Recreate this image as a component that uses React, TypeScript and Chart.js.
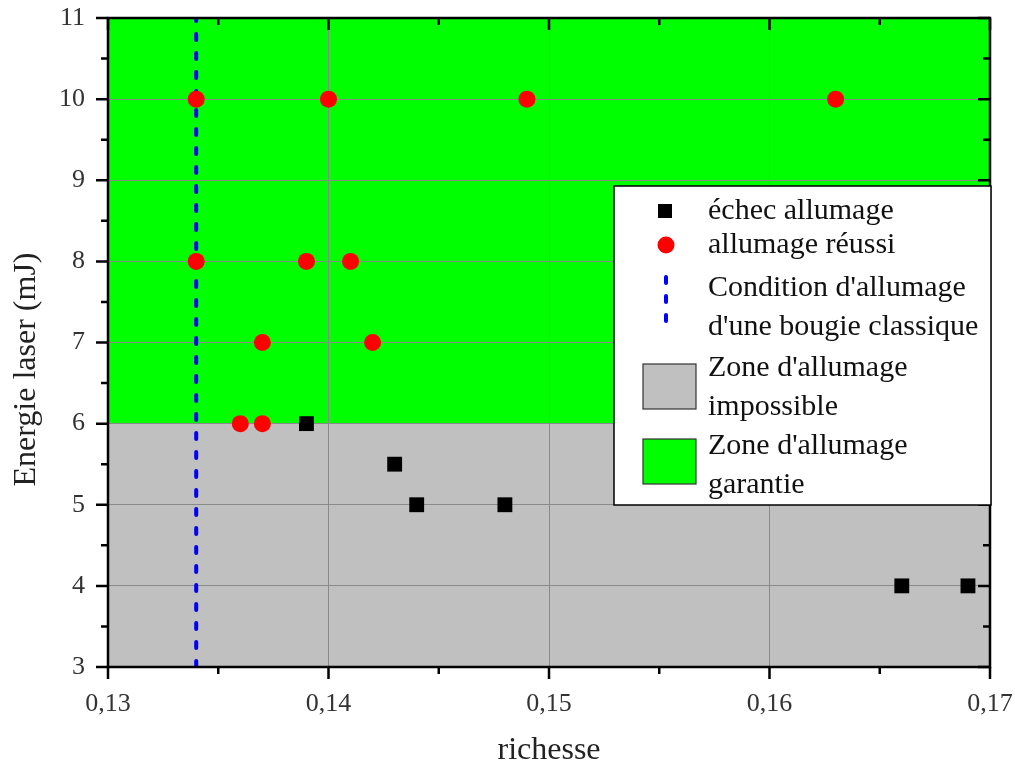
import React, { useEffect, useRef } from "react";
import { Chart, registerables } from "chart.js";

Chart.register(...registerables);

// ---- Data ----
const richesseEchec = [0.139, 0.143, 0.144, 0.148, 0.166, 0.169];
const energieEchec = [6, 5.5, 5, 5, 4, 4];

const richesseReussi = [0.134, 0.14, 0.149, 0.163, 0.134, 0.139, 0.141, 0.137, 0.142, 0.136, 0.137];
const energieReussi = [10, 10, 10, 10, 8, 8, 8, 7, 7, 6, 6];

const conditionRichesse = 0.134; // vertical dashed line
const zoneLimite = 6; // energy separating the two zones

const xMin = 0.13;
const xMax = 0.17;
const yMin = 3;
const yMax = 11;

const xTitle = "richesse";
const yTitle = "Energie laser (mJ)";

const legendLabels = [
  ["échec allumage"],
  ["allumage réussi"],
  ["Condition d'allumage", "d'une bougie classique"],
  ["Zone d'allumage", "impossible"],
  ["Zone d'allumage", "garantie"],
];

const SERIF = "'Liberation Serif', 'Times New Roman', serif";
const GRID = "#8a8a8a";

const fmt = (v: number) => v.toFixed(2).replace(".", ",");

const framePlugin = {
  id: "frameTicks",
  afterDatasetsDraw(chart: any) {
    const { ctx, chartArea: a, scales } = chart;
    const xs = scales.x;
    const ys = scales.y;
    ctx.save();
    ctx.strokeStyle = "#000";
    ctx.lineWidth = 2.5;
    ctx.lineCap = "butt";
    const major = 12;
    const minor = 7;
    const xt = xs.ticks.map((t: any) => t.value);
    const yt = ys.ticks.map((t: any) => t.value);
    ctx.beginPath();
    xt.forEach((v: number, i: number) => {
      const px = xs.getPixelForValue(v);
      ctx.moveTo(px, a.bottom);
      ctx.lineTo(px, a.bottom + major);
      ctx.moveTo(px, a.top);
      ctx.lineTo(px, a.top + major);
      if (i < xt.length - 1) {
        const pm = xs.getPixelForValue((v + xt[i + 1]) / 2);
        ctx.moveTo(pm, a.bottom);
        ctx.lineTo(pm, a.bottom + minor);
        ctx.moveTo(pm, a.top);
        ctx.lineTo(pm, a.top + minor);
      }
    });
    yt.forEach((v: number, i: number) => {
      const py = ys.getPixelForValue(v);
      ctx.moveTo(a.left, py);
      ctx.lineTo(a.left - major, py);
      ctx.moveTo(a.right, py);
      ctx.lineTo(a.right - major, py);
      if (i < yt.length - 1) {
        const pm = ys.getPixelForValue((v + yt[i + 1]) / 2);
        ctx.moveTo(a.left, pm);
        ctx.lineTo(a.left - minor, pm);
        ctx.moveTo(a.right, pm);
        ctx.lineTo(a.right - minor, pm);
      }
    });
    ctx.stroke();
    ctx.strokeRect(a.left, a.top, a.right - a.left, a.bottom - a.top);

    // y axis title
    ctx.fillStyle = "#222";
    ctx.font = `32px ${SERIF}`;
    ctx.textAlign = "center";
    ctx.textBaseline = "middle";
    ctx.translate(27, (a.top + a.bottom) / 2 + 27);
    ctx.rotate(-Math.PI / 2);
    ctx.fillText(yTitle, 0, 0);
    ctx.restore();
  },
};

const legendPlugin = {
  id: "boxLegend",
  afterDraw(chart: any) {
    const { ctx, chartArea: a } = chart;
    const ds = chart.data.datasets;
    const bx = a.right - 376;
    const by = a.top + 168;
    const bw = 377;
    const bh = 319;
    ctx.save();
    ctx.fillStyle = "#fff";
    ctx.fillRect(bx, by, bw, bh);
    ctx.strokeStyle = "#000";
    ctx.lineWidth = 1.5;
    ctx.strokeRect(bx, by, bw, bh);

    const mx = bx + 51;
    const tx = bx + 94;
    const lineCenters = [
      [by + 25],
      [by + 59],
      [by + 102, by + 141],
      [by + 182, by + 221],
      [by + 260, by + 299],
    ];

    ctx.fillStyle = ds[0].backgroundColor;
    ctx.fillRect(mx - 7, lineCenters[0][0] - 7, 14, 14);
    ctx.fillStyle = ds[1].backgroundColor;
    ctx.beginPath();
    ctx.arc(mx + 1, lineCenters[1][0], 8.5, 0, Math.PI * 2);
    ctx.fill();
    ctx.strokeStyle = ds[2].borderColor;
    ctx.lineWidth = 4;
    ctx.lineCap = "round";
    ctx.setLineDash([6, 13]);
    ctx.beginPath();
    ctx.moveTo(mx + 1, by + 91);
    ctx.lineTo(mx + 1, by + 136);
    ctx.stroke();
    ctx.setLineDash([]);
    ctx.lineCap = "butt";
    [3, 4].forEach((k, j) => {
      const top = j === 0 ? by + 178 : by + 253;
      ctx.fillStyle = ds[k].backgroundColor;
      ctx.fillRect(bx + 29, top, 53, 45);
      ctx.strokeStyle = "#333";
      ctx.lineWidth = 1.2;
      ctx.strokeRect(bx + 29, top, 53, 45);
    });

    ctx.fillStyle = "#111";
    ctx.font = `30px ${SERIF}`;
    ctx.textAlign = "left";
    ctx.textBaseline = "middle";
    legendLabels.forEach((lines, i) => {
      lines.forEach((t, j) => ctx.fillText(t, tx, lineCenters[i][j]));
    });
    ctx.restore();
  },
};

export default function App() {
  const ref = useRef<HTMLCanvasElement | null>(null);

  useEffect(() => {
    if (!ref.current) return;
    const edgeTransparent = (c: any) => {
      const n = c.scale.ticks.length;
      return c.index === 0 || c.index === n - 1 ? "rgba(0,0,0,0)" : GRID;
    };
    const chart = new Chart(ref.current, {
      type: "scatter",
      data: {
        datasets: [
          {
            label: legendLabels[0].join(" "),
            data: richesseEchec.map((x, i) => ({ x, y: energieEchec[i] })),
            backgroundColor: "#000000",
            borderColor: "#000000",
            pointStyle: "rect",
            pointRadius: 10.5,
            borderWidth: 0,
            order: 1,
          },
          {
            label: legendLabels[1].join(" "),
            data: richesseReussi.map((x, i) => ({ x, y: energieReussi[i] })),
            backgroundColor: "#ff0000",
            borderColor: "#ff0000",
            pointStyle: "circle",
            pointRadius: 8.5,
            borderWidth: 0,
            order: 0,
          },
          {
            type: "line",
            label: legendLabels[2].join(" "),
            data: [
              { x: conditionRichesse, y: yMin },
              { x: conditionRichesse, y: yMax },
            ],
            borderColor: "#0000ff",
            borderWidth: 4,
            borderDash: [6, 13],
            borderCapStyle: "round",
            pointRadius: 0,
            fill: false,
            order: 2,
          },
          {
            type: "line",
            label: legendLabels[3].join(" "),
            data: [
              { x: xMin, y: zoneLimite },
              { x: xMax, y: zoneLimite },
            ],
            backgroundColor: "#c0c0c0",
            borderColor: "rgba(0,0,0,0)",
            borderWidth: 0,
            pointRadius: 0,
            fill: "start",
            order: 5,
          },
          {
            type: "line",
            label: legendLabels[4].join(" "),
            data: [
              { x: xMin, y: yMax },
              { x: xMax, y: yMax },
            ],
            backgroundColor: "#00ff00",
            borderColor: "rgba(0,0,0,0)",
            borderWidth: 0,
            pointRadius: 0,
            fill: { value: zoneLimite },
            order: 4,
          },
        ] as any,
      },
      options: {
        animation: false,
        responsive: false,
        events: [],
        layout: { padding: { left: 0, top: 18, right: 25, bottom: 0 } },
        plugins: {
          legend: { display: false },
          tooltip: { enabled: false },
          filler: { drawTime: "beforeDraw" } as any,
        },
        scales: {
          x: {
            type: "linear",
            min: xMin,
            max: xMax,
            afterFit: (s: any) => {
              s.height = 103;
              s.paddingLeft = 0;
              s.paddingRight = 0;
            },
            ticks: {
              stepSize: 0.01,
              callback: (v: any) => fmt(Number(v)),
              font: { family: SERIF, size: 26 },
              color: "#333",
              padding: 22,
              maxRotation: 0,
            },
            grid: { color: edgeTransparent, lineWidth: 1, drawTicks: false },
            border: { display: false },
            title: {
              display: true,
              text: xTitle,
              font: { family: SERIF, size: 32 },
              color: "#222",
              padding: { top: 0, bottom: 0 },
            },
          },
          y: {
            type: "linear",
            min: yMin,
            max: yMax,
            afterFit: (s: any) => {
              s.width = 108;
              s.paddingTop = 0;
              s.paddingBottom = 0;
            },
            ticks: {
              stepSize: 1,
              font: { family: SERIF, size: 26 },
              color: "#333",
              padding: 23,
            },
            grid: { color: edgeTransparent, lineWidth: 1, drawTicks: false },
            border: { display: false },
          },
        },
      },
      plugins: [framePlugin, legendPlugin],
    });
    return () => chart.destroy();
  }, []);

  return (
    <div style={{ position: "fixed", left: 0, top: 0, width: 1015, height: 770, background: "#fff" }}>
      <canvas ref={ref} width={1015} height={770} />
    </div>
  );
}
